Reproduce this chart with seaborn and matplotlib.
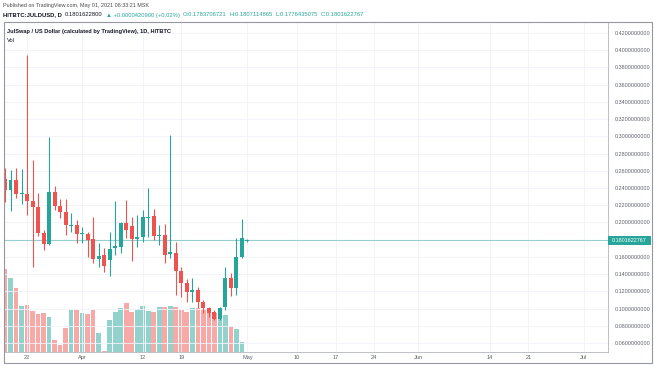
import numpy as np
import pandas as pd
import matplotlib
matplotlib.use("Agg")
from matplotlib import pyplot as plt
import matplotlib.dates as mdates
from matplotlib.patches import Rectangle
import seaborn as sns

# %%
# JULD/USD daily candles
start_date = "2021-03-18"
opens = [0.2504, 0.2377, 0.2493, 0.2325, 0.2330, 0.2249, 0.2180, 0.1877, 0.1750, 0.2353,
         0.2190, 0.2121, 0.1962, 0.1970, 0.1862, 0.1866, 0.1808, 0.1575, 0.1622, 0.1564,
         0.1703, 0.1715, 0.1993, 0.1958, 0.1808, 0.1831, 0.2055, 0.2075, 0.1842, 0.1854,
         0.1633, 0.1645, 0.1436, 0.1297, 0.1192, 0.1215, 0.1076, 0.1006, 0.0960, 0.0878,
         0.1018, 0.1355, 0.1238, 0.1598, 0.17837]
highs = [0.2630, 0.2609, 0.2632, 0.2620, 0.3950, 0.2725, 0.2342, 0.1912, 0.2992, 0.2423,
         0.2272, 0.2272, 0.2110, 0.2028, 0.1947, 0.1889, 0.2063, 0.1761, 0.1703, 0.1889,
         0.2249, 0.2005, 0.2260, 0.2063, 0.2086, 0.2144, 0.2400, 0.2156, 0.1970, 0.1982,
         0.3015, 0.1773, 0.1482, 0.1343, 0.1355, 0.1250, 0.1100, 0.1018, 0.0983, 0.1018,
         0.1482, 0.1413, 0.1819, 0.2040, 0.18071]
lows = [0.2237, 0.2133, 0.2284, 0.2214, 0.2086, 0.1482, 0.1842, 0.1680, 0.1738, 0.2144,
        0.2051, 0.1854, 0.1889, 0.1761, 0.1761, 0.1598, 0.1529, 0.1482, 0.1424, 0.1378,
        0.1622, 0.1645, 0.1819, 0.1552, 0.1715, 0.1773, 0.1831, 0.1796, 0.1738, 0.1529,
        0.1587, 0.1157, 0.1134, 0.1076, 0.1076, 0.1006, 0.0948, 0.0902, 0.0867, 0.0867,
        0.0983, 0.1146, 0.1157, 0.1587, 0.17764]
closes = [0.2377, 0.2493, 0.2330, 0.2335, 0.2249, 0.2180, 0.1877, 0.1750, 0.2353, 0.2190,
          0.2121, 0.1970, 0.1972, 0.1866, 0.1868, 0.1796, 0.1575, 0.1610, 0.1494, 0.1691,
          0.1726, 0.1993, 0.1912, 0.1808, 0.1831, 0.2063, 0.2066, 0.1842, 0.1854, 0.1622,
          0.1657, 0.1436, 0.1297, 0.1192, 0.1215, 0.1076, 0.1006, 0.0948, 0.0878, 0.1006,
          0.1355, 0.1238, 0.1598, 0.1819, 0.1801622767]
# volume in thousands (no scale shown on the chart)
volumes = [83, 74, 64, 46, 47, 41, 38, 39, 35, 12,
           7, 24, 42, 42, 39, 38, 42, 19, 1, 32,
           40, 44, 49, 40, 43, 46, 41, 40, 45, 45,
           46, 45, 42, 40, 44, 44, 42, 40, 39, 37,
           37, 25, 23, 10, 0.3]

price_ticks = [0.06, 0.08, 0.10, 0.12, 0.14, 0.16, 0.18, 0.20, 0.22, 0.24,
               0.26, 0.28, 0.30, 0.32, 0.34, 0.36, 0.38, 0.40, 0.42]
time_ticks = ["2021-03-22", "2021-04-01", "2021-04-12", "2021-04-19", "2021-05-01",
              "2021-05-10", "2021-05-17", "2021-05-24", "2021-06-01", "2021-06-14",
              "2021-06-21", "2021-07-01"]
time_labels = ["22", "Apr", "12", "19", "May", "10", "17", "24", "Jun", "14", "21", "Jul"]
last_price = 0.1801622767

# %%
up_col = "#26a69a"
down_col = "#ef5350"
grid_col = "#f0f3fa"
txt_col = "#5d606b"
W, H = 654, 366

sns.set_style("white")
plt.rcParams["font.family"] = ["Liberation Sans", "DejaVu Sans"]

df = pd.DataFrame({"open": opens, "high": highs, "low": lows, "close": closes, "vol": volumes})
df["date"] = pd.date_range(start_date, periods=len(df), freq="D")
df["x"] = mdates.date2num(df["date"])
df["up"] = df["close"] >= df["open"]

fig = plt.figure(figsize=(W / 100, H / 100), dpi=100)
fig.patch.set_facecolor("white")

# chart pane: x 4..608 px, y 22..352 px
ax = fig.add_axes([4 / W, 1 - 352 / H, 604 / W, 330 / H])
vax = ax.twinx()

# volume on its own scale, drawn behind the candles
for is_up, c in [(True, "#92d2cc"), (False, "#f7a9a7")]:
    sub = df[df["up"] == is_up]
    sns.barplot(x=sub["x"], y=sub["vol"], native_scale=True, color=c, saturation=1,
                width=0.85, errorbar=None, ax=vax, linewidth=0)
vax.set_ylim(0, 330)
vax.set_yticks([])
vax.set_ylabel("")
vax.set_xlabel("")
ax.set_zorder(vax.get_zorder() + 1)
ax.patch.set_visible(False)

# candles
cols = np.where(df["up"], up_col, down_col)
ax.vlines(df["x"], df["low"], df["high"], colors=cols, lw=0.8, zorder=3)
body_lo = np.minimum(df["open"], df["close"])
body_h = np.maximum(np.abs(df["close"] - df["open"]), 0.0012)
ax.bar(df["x"], body_h, bottom=body_lo, width=0.72, color=cols, lw=0, zorder=4)

# last price line
ax.axhline(last_price, color=up_col, alpha=0.45, lw=0.8, zorder=2)

x0 = mdates.date2num(pd.Timestamp(start_date)) - 0.18
ax.set_xlim(x0, x0 + 604 / 5.51)
ax.set_ylim(0.42 - 319 / 861, 0.42 + 11 / 861)

ax.yaxis.tick_right()
ax.set_yticks(price_ticks)
# the 0.18 label sits under the last-price tag
ax.set_yticklabels(["" if abs(t - 0.18) < 1e-9 else "%.10f" % t for t in price_ticks])
ax.set_xticks(mdates.date2num(pd.to_datetime(time_ticks)))
ax.set_xticklabels(time_labels)
ax.tick_params(axis="y", length=0, pad=5, labelsize=3.9, labelcolor=txt_col)
ax.tick_params(axis="x", length=0, pad=2.5, labelsize=4.1, labelcolor=txt_col)
ax.grid(True, color=grid_col, lw=0.6)
ax.set_axisbelow(True)
for s in ["left", "top"]:
    ax.spines[s].set_visible(False)
for s in ["right", "bottom"]:
    ax.spines[s].set_color("#b2b5be")
    ax.spines[s].set_linewidth(0.6)
for s in vax.spines.values():
    s.set_visible(False)

# outer frame
fig.patches.append(Rectangle((4 / W, 1 - 363 / H), 648 / W, 341 / H, transform=fig.transFigure,
                             fill=False, ec="#9598a1", lw=0.8))

# last price tag on the scale
fig.patches.append(Rectangle((608 / W, 1 - 244.5 / H), 43 / W, 9 / H, transform=fig.transFigure,
                             fc=up_col, ec="none", zorder=5))
fig.text(629.5 / W, 1 - 240 / H, "0.1801622767", ha="center", va="center", fontsize=3.9,
         color="white", zorder=6)

# header texts, laid out one piece after the other
fig.canvas.draw()
renderer = fig.canvas.get_renderer()

def run_line(x, y, pieces, size, gap=2.5):
    for s, c, w in pieces:
        t = fig.text(x / W, 1 - y / H, s, va="center", ha="left", fontsize=size, color=c,
                     fontweight=w, family=["Liberation Sans", "DejaVu Sans"])
        x = t.get_window_extent(renderer).x1 + gap

run_line(3, 6, [("Published on TradingView.com, May 01, 2021 08:33:21 MSK", "#4a4a4a", "normal")], 3.9)
run_line(3, 15, [("HITBTC:JULDUSD, D", "#131722", "bold"),
                 ("0.1801622800", "#131722", "normal"),
                 ("\u25b2 +0.0000420900 (+0.02%)", up_col, "normal"),
                 ("O:0.1783706721", up_col, "normal"),
                 ("H:0.1807114865", up_col, "normal"),
                 ("L:0.1776435075", up_col, "normal"),
                 ("C:0.1801622767", up_col, "normal")], 4.2, gap=3)
run_line(7, 32, [("JulSwap / US Dollar (calculated by TradingView), 1D, HITBTC", "#131722", "bold")], 4.1)
run_line(7, 40, [("Vol", "#131722", "normal")], 4.1)

plt.savefig("out.png", dpi=100)
